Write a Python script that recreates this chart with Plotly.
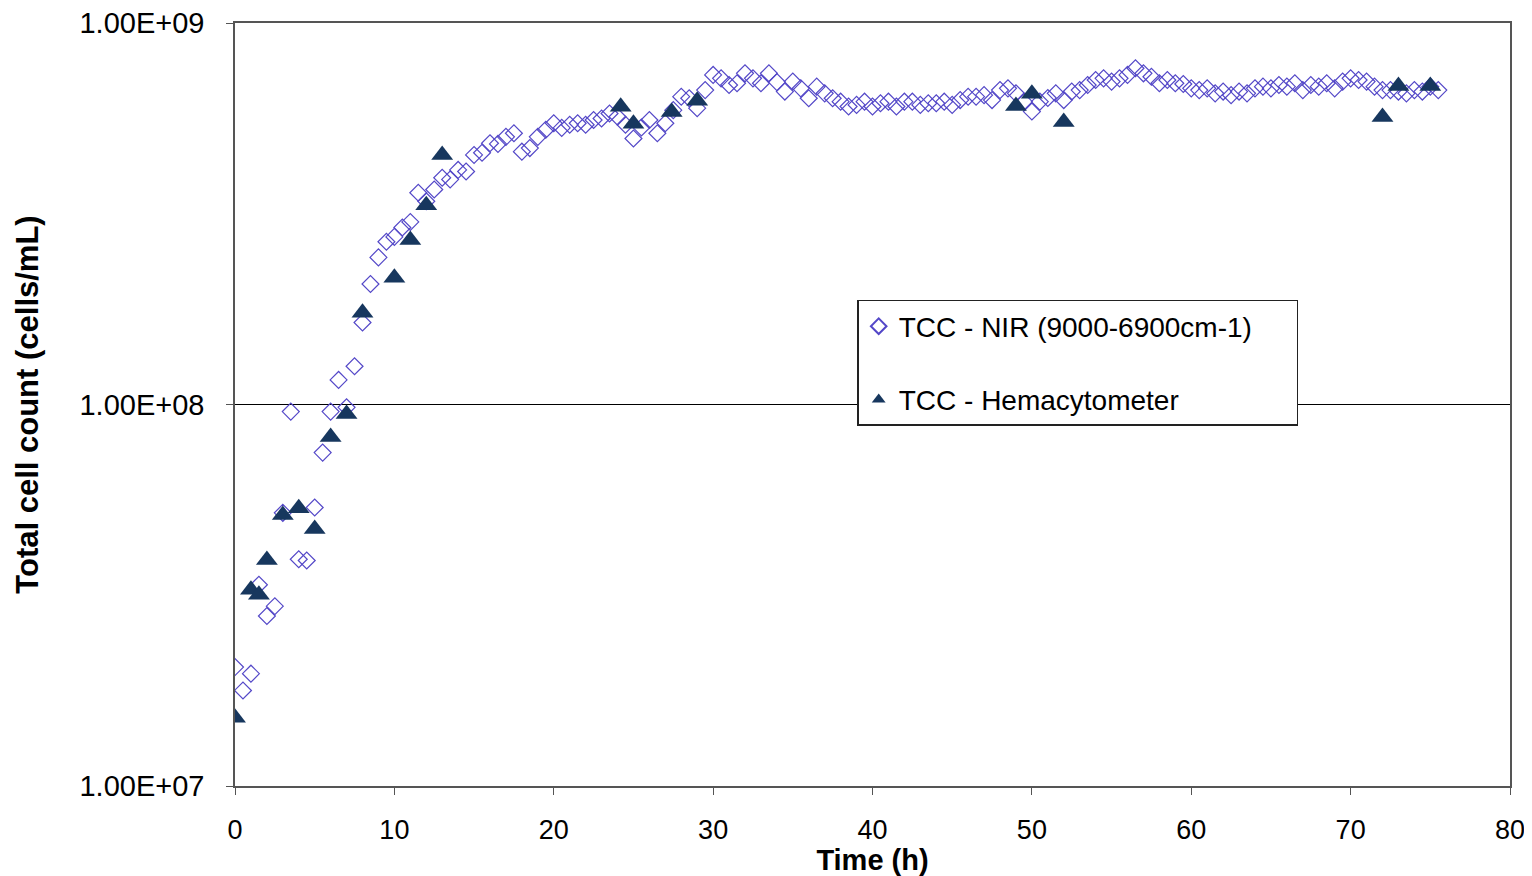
import plotly.graph_objects as go

# NIR series (time h, total cell count in cells/mL)
nir_time = [0, 0.5, 1.0, 1.5, 2.0, 2.5, 3.0, 3.5, 4.0, 4.5, 5.0, 5.5, 6.0, 6.5, 7.0, 7.5,
            8.0, 8.5, 9.0, 9.5, 10.0, 10.5, 11.0, 11.5, 12.0, 12.5, 13.0, 13.5, 14.0, 14.5,
            15.0, 15.5, 16.0, 16.5, 17.0, 17.5, 18.0, 18.5, 19.0, 19.5, 20.0, 20.5, 21.0,
            21.5, 22.0, 22.5, 23.0, 23.5, 24.0, 24.5, 25.0, 25.5, 26.0, 26.5, 27.0, 27.5,
            28.0, 28.5, 29.0, 29.5, 30.0, 30.5, 31.0, 31.5, 32.0, 32.5, 33.0, 33.5, 34.0,
            34.5, 35.0, 35.5, 36.0, 36.5, 37.0, 37.5, 38.0, 38.5, 39.0, 39.5, 40.0, 40.5,
            41.0, 41.5, 42.0, 42.5, 43.0, 43.5, 44.0, 44.5, 45.0, 45.5, 46.0, 46.5, 47.0,
            47.5, 48.0, 48.5, 49.0, 49.5, 50.0, 50.5, 51.0, 51.5, 52.0, 52.5, 53.0, 53.5,
            54.0, 54.5, 55.0, 55.5, 56.0, 56.5, 57.0, 57.5, 58.0, 58.5, 59.0, 59.5, 60.0,
            60.5, 61.0, 61.5, 62.0, 62.5, 63.0, 63.5, 64.0, 64.5, 65.0, 65.5, 66.0, 66.5,
            67.0, 67.5, 68.0, 68.5, 69.0, 69.5, 70.0, 70.5, 71.0, 71.5, 72.0, 72.5, 73.0,
            73.5, 74.0, 74.5, 75.0, 75.5]
nir_millions = [20.5, 17.8, 19.7, 33.7, 27.9, 29.6, 52, 95.8, 39.3, 39.0, 53.7, 74.8, 95.8, 116,
                98.3, 126, 164, 207, 243, 267, 275, 291, 301, 359, 341, 366, 393, 389, 412, 408,
                451, 457, 484, 482, 503, 514, 460, 470, 503, 525, 546, 531, 541, 546, 541, 557,
                562, 579, 568, 541, 498, 532, 557, 514, 546, 591, 641, 635, 598, 667, 731, 716,
                688, 695, 738, 716, 695, 738, 700, 661, 702, 674, 635, 681, 654, 635, 622, 604,
                610, 622, 604, 616, 622, 604, 622, 622, 610, 616, 616, 622, 610, 628, 641, 641,
                647, 628, 667, 674, 654, 622, 586, 622, 636, 654, 628, 661, 667, 688, 709, 716,
                702, 716, 731, 761, 738, 723, 695, 709, 695, 692, 674, 667, 674, 654, 661, 647,
                661, 654, 674, 681, 674, 688, 681, 695, 667, 688, 681, 695, 674, 702, 716, 709,
                702, 681, 667, 667, 661, 654, 667, 661, 681, 667]

# Hemacytometer series
hem_time = [0, 1.0, 1.5, 2.0, 3.0, 4.0, 5.0, 6.0, 7.0, 8.0, 10.0, 11.0, 12.0, 13.0,
            24.2, 25.0, 27.4, 29.0, 49.0, 50.0, 52.0, 72.0, 73.0, 75.0]
hem_millions = [15.1, 32.7, 31.7, 39.1, 51.3, 53.5, 47.2, 82.2, 94.4, 174, 215, 270, 333, 451,
                603, 544, 584, 625, 606, 652, 550, 567, 684, 684]

y_tickvals = [1e7, 1e8, 1e9]
y_ticktext = ["1.00E+07", "1.00E+08", "1.00E+09"]
x_tickvals = [0, 10, 20, 30, 40, 50, 60, 70, 80]

nir_vals = [v * 1e6 for v in nir_millions]
hem_vals = [v * 1e6 for v in hem_millions]

fig = go.Figure()
fig.add_trace(go.Scatter(
    x=nir_time, y=nir_vals, mode="markers",
    name="TCC - NIR (9000-6900cm-1)\u00a0\u00a0\u00a0\u00a0\u00a0",
    legendgroup="a",
    marker=dict(symbol="diamond-open", size=13, color="#5448C8", line=dict(width=1.2)),
))
fig.add_trace(go.Scatter(
    x=hem_time, y=hem_vals, mode="markers", name="TCC - Hemacytometer",
    legendgroup="b",
    marker=dict(symbol="triangle-up", size=19, color="#17375E"),
))

fig.update_layout(
    width=1524, height=868,
    margin=dict(l=227, r=22, t=15, b=90),
    plot_bgcolor="white", paper_bgcolor="white",
    font=dict(family="Liberation Sans, Arial, sans-serif", size=24, color="black"),
    showlegend=True,
    legend=dict(
        x=0.488, y=0.637, xanchor="left", yanchor="top",
        bgcolor="white", bordercolor="#222222", borderwidth=1.5,
        font=dict(size=28, color="black"),
        traceorder="grouped", tracegroupgap=34,
        itemsizing="constant",
    ),
    xaxis=dict(
        range=[0, 80], tickvals=x_tickvals, showgrid=False, zeroline=False,
        showline=True, linecolor="#555555", linewidth=1.5, mirror=True,
        ticks="outside", ticklen=7, tickcolor="#555555", automargin=False,
        tickfont=dict(size=27), ticklabelstandoff=12, ticklabeloverflow="allow",
        title=dict(text="<b>Time (h)</b>", font=dict(size=29), standoff=0),
    ),
    yaxis=dict(
        type="log", range=[7, 9], tickvals=y_tickvals, ticktext=y_ticktext,
        showgrid=True, gridcolor="black", gridwidth=1, zeroline=False,
        showline=True, linecolor="#555555", linewidth=1.5, mirror=True,
        ticks="outside", ticklen=7, tickcolor="#555555", automargin=False,
        tickfont=dict(size=29), ticklabelstandoff=16, ticklabeloverflow="allow",
        title=dict(text="<b>Total cell count (cells/mL)</b>", font=dict(size=31), standoff=32),
    ),
)

fig.write_html("out.html")
